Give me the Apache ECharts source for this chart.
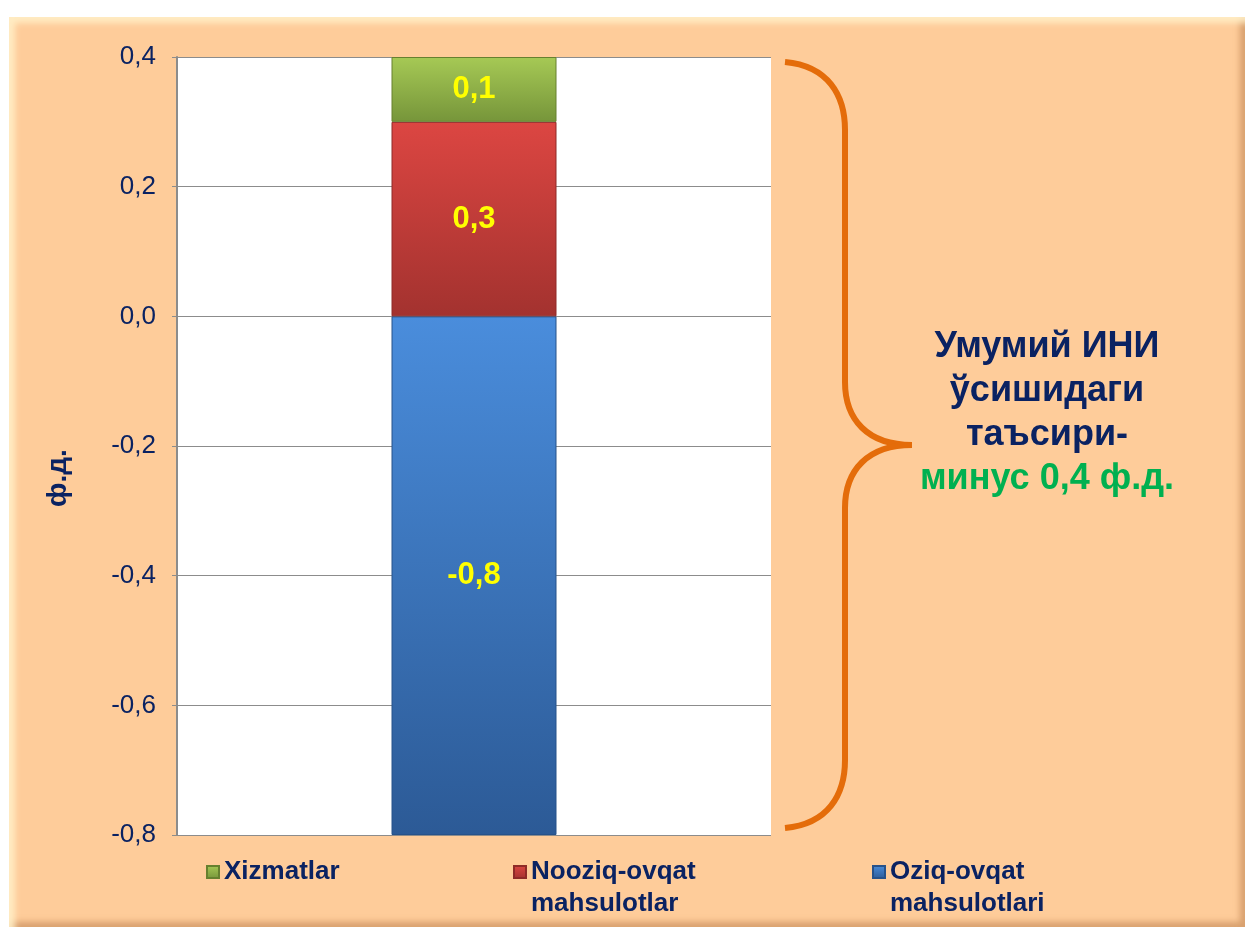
<!DOCTYPE html>
<html>
<head>
<meta charset="utf-8">
<script src="https://cdn.jsdelivr.net/npm/echarts@6/dist/echarts.min.js"></script>
<style>
  body { margin: 0; background: #fff; }
  #panel {
    position: absolute; left: 9px; top: 17px; width: 1236px; height: 910px;
    background: #fecc9a;
    box-shadow: inset 6px 6px 6px rgba(255,240,200,0.9), inset -5px -5px 6px rgba(190,130,80,0.6);
  }
  #main { position: absolute; left: 0; top: 0; width: 1248px; height: 931px; }
</style>
</head>
<body>
<div id="panel"></div>
<div id="main"></div>
<script>
// данные
const categories = [''];
const oziqValues = [-0.8];      // Oziq-ovqat mahsulotlari
const nooziqValues = [0.3];     // Nooziq-ovqat mahsulotlar
const xizmatValues = [0.1];     // Xizmatlar
const seriesNames = ['Oziq-ovqat\nmahsulotlari', 'Nooziq-ovqat\nmahsulotlar', 'Xizmatlar'];
const noteLines = ['Умумий ИНИ', 'ўсишидаги', 'таъсири-'];
const noteTotal = 'минус 0,4 ф.д.';

const navy = '#0a2262';
const orange = '#e46c0a';
const comma = v => Number(v).toFixed(1).replace('.', ',');

function grad(top, bottom) {
  return {
    type: 'linear', x: 0, y: 0, x2: 0, y2: 1,
    colorStops: [{offset: 0, color: top}, {offset: 1, color: bottom}]
  };
}

// фигурная скобка справа
const braceStyle = {fill: 'none', stroke: orange, lineWidth: 6};
function curve(x1, y1, cpx1, cpy1, cpx2, cpy2, x2, y2) {
  return {type: 'bezierCurve', shape: {x1, y1, cpx1, cpy1, cpx2, cpy2, x2, y2}, style: braceStyle};
}
function seg(x1, y1, x2, y2) {
  return {type: 'line', shape: {x1, y1, x2, y2}, style: braceStyle};
}

const barLabel = {
  show: true,
  position: 'inside',
  color: '#ffff00',
  fontFamily: 'Liberation Sans',
  fontWeight: 'bold',
  fontSize: 31,
  formatter: p => comma(p.value)
};

const legendText = {
  color: navy,
  fontFamily: 'Liberation Sans',
  fontWeight: 'bold',
  fontSize: 26,
  lineHeight: 32
};

const chart = echarts.init(document.getElementById('main'));
chart.setOption({
  animation: false,
  grid: {
    left: 177, top: 57, width: 594, height: 778,
    show: true, backgroundColor: '#ffffff', borderWidth: 0
  },
  xAxis: {
    type: 'category',
    data: categories,
    axisLine: {show: false},
    axisTick: {show: false},
    axisLabel: {show: false}
  },
  yAxis: {
    type: 'value',
    min: -0.8, max: 0.4, interval: 0.2,
    axisLine: {show: true, lineStyle: {color: '#8c8c8c', width: 2}},
    axisTick: {show: true, length: 5, lineStyle: {color: '#8c8c8c'}},
    axisLabel: {
      color: navy, fontFamily: 'Liberation Sans', fontSize: 26, margin: 21,
      formatter: v => comma(v)
    },
    splitLine: {lineStyle: {color: '#8c8c8c', width: 1}}
  },
  legend: [
    {
      data: ['Xizmatlar'], left: 206, top: 856, padding: 0,
      itemWidth: 12, itemHeight: 12, icon: 'rect', textStyle: legendText
    },
    {
      data: ['Nooziq-ovqat\nmahsulotlar'], left: 513, top: 824, padding: 0,
      itemWidth: 12, itemHeight: 12, icon: 'rect',
      formatter: name => '\n' + name, textStyle: legendText
    },
    {
      data: ['Oziq-ovqat\nmahsulotlari'], left: 872, top: 824, padding: 0,
      itemWidth: 12, itemHeight: 12, icon: 'rect',
      formatter: name => '\n' + name, textStyle: legendText
    }
  ],
  series: [
    {
      name: seriesNames[0], type: 'bar', stack: 'total', data: oziqValues,
      barWidth: 165,
      itemStyle: {color: grad('#4a8ddc', '#2c5a96'), borderColor: '#27528a', borderWidth: 1},
      label: barLabel
    },
    {
      name: seriesNames[1], type: 'bar', stack: 'total', data: nooziqValues,
      barWidth: 165,
      itemStyle: {color: grad('#dc4642', '#a3322f'), borderColor: '#8e2b28', borderWidth: 1},
      label: barLabel
    },
    {
      name: seriesNames[2], type: 'bar', stack: 'total', data: xizmatValues,
      barWidth: 165,
      itemStyle: {color: grad('#a6c955', '#76953a'), borderColor: '#66802f', borderWidth: 1},
      label: barLabel
    }
  ],
  graphic: [
    curve(785, 62, 828, 66, 845, 95, 845, 130),
    seg(845, 130, 845, 382),
    curve(845, 382, 845, 420, 868, 445, 912, 445),
    curve(912, 445, 868, 445, 845, 470, 845, 508),
    seg(845, 508, 845, 760),
    curve(845, 760, 845, 795, 828, 824, 785, 828),
    {
      type: 'text', x: 44, y: 507, rotation: Math.PI / 2,
      style: {text: 'ф.д.', fill: navy, font: 'bold 28px "Liberation Sans"', verticalAlign: 'top'}
    },
    {
      type: 'text', x: 1047, y: 325,
      style: {
        text: noteLines.join('\n') + '\n{g|' + noteTotal + '}',
        fill: navy, font: 'bold 36px "Liberation Sans"', lineHeight: 44,
        align: 'center', verticalAlign: 'top',
        rich: {g: {fill: '#00b050', font: 'bold 36px "Liberation Sans"', lineHeight: 44}}
      }
    }
  ]
});
</script>
</body>
</html>
